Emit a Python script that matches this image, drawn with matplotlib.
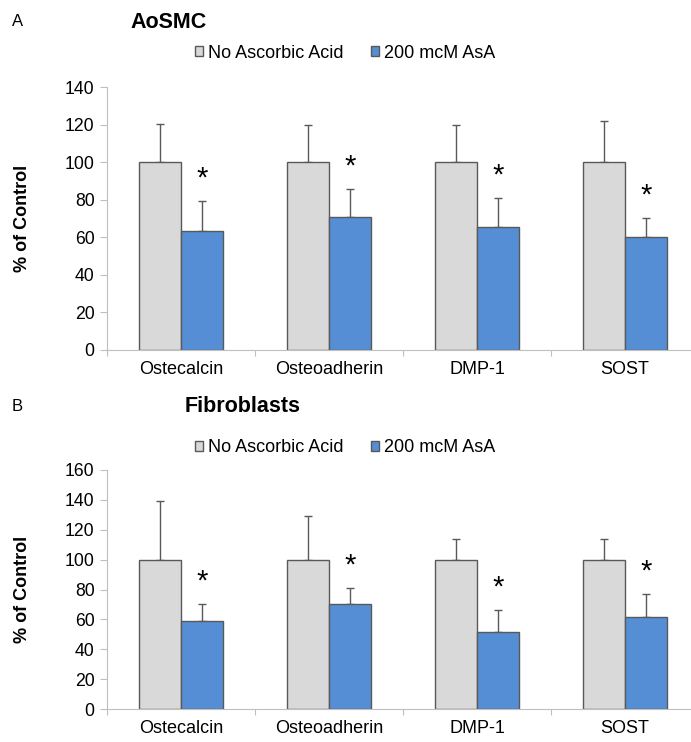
import matplotlib.pyplot as plt
import numpy as np

plt.rcParams['font.family'] = ['Liberation Sans', 'DejaVu Sans']

genes = ['Ostecalcin', 'Osteoadherin', 'DMP-1', 'SOST']
series = ['No Ascorbic Acid', '200 mcM AsA']

# panel A: AoSMC
aosmc_ctrl = [100, 100, 100, 100]
aosmc_ctrl_err = [20.2, 19.7, 19.7, 21.8]
aosmc_asa = [63.5, 70.6, 65.6, 60.3]
aosmc_asa_err = [15.8, 15.0, 15.1, 9.9]

# panel B: Fibroblasts
fib_ctrl = [100, 100, 100, 100]
fib_ctrl_err = [39.4, 29.4, 13.8, 13.8]
fib_asa = [59.1, 70.5, 51.3, 61.4]
fib_asa_err = [11.2, 10.5, 15.2, 15.6]

GRAY = '#d9d9d9'
BLUE = '#558ed5'
EDGE = '#595959'
AXC = '#bfbfbf'
FS = 13

fig = plt.figure(figsize=(6.91, 7.42), dpi=100)


def draw_panel(ax, ctrl, ctrl_err, asa, asa_err, ymax, ystep, star_off):
    x = np.arange(len(genes))
    w = 0.285
    ax.bar(x - w / 2, ctrl, w, color=GRAY, edgecolor=EDGE, linewidth=1,
           label=series[0], zorder=2)
    ax.bar(x + w / 2, asa, w, color=BLUE, edgecolor=EDGE, linewidth=1,
           label=series[1], zorder=2)
    ax.errorbar(x - w / 2, ctrl, yerr=[np.zeros(4), ctrl_err], fmt='none',
                ecolor=EDGE, elinewidth=1, capsize=3, capthick=1, zorder=1)
    ax.errorbar(x + w / 2, asa, yerr=[np.zeros(4), asa_err], fmt='none',
                ecolor=EDGE, elinewidth=1, capsize=3, capthick=1, zorder=1)
    for i in range(len(genes)):
        ax.text(x[i] + w / 2, asa[i] + asa_err[i] + star_off, '*',
                ha='center', va='center', fontsize=21)

    ax.set_xlim(-0.5, len(genes) - 0.5)
    ax.set_ylim(0, ymax)
    ax.set_yticks(np.arange(0, ymax + 1, ystep))
    ax.set_xticks(np.arange(-0.5, len(genes)), [''] * (len(genes) + 1))
    ax.set_xticks(x, genes, minor=True)
    ax.tick_params(axis='x', which='major', length=4, color=AXC, direction='out')
    ax.tick_params(axis='x', which='minor', length=0, labelsize=FS, pad=8)
    ax.tick_params(axis='y', length=5, color=AXC, labelsize=FS - 0.3, pad=4)
    for s in ['top', 'right']:
        ax.spines[s].set_visible(False)
    for s in ['left', 'bottom']:
        ax.spines[s].set_color(AXC)
    ax.set_ylabel('% of Control', fontsize=FS, fontweight='bold', labelpad=24)


axA = fig.add_axes([107 / 691, 1 - 350 / 742, 592 / 691, 263 / 742])
draw_panel(axA, aosmc_ctrl, aosmc_ctrl_err, aosmc_asa, aosmc_asa_err, 140, 20, 12)
axB = fig.add_axes([107 / 691, 1 - 709 / 742, 592 / 691, 239 / 742])
draw_panel(axB, fib_ctrl, fib_ctrl_err, fib_asa, fib_asa_err, 160, 20, 15)

for ax, ly in [(axA, 53), (axB, 448)]:
    ax.legend(loc='center', bbox_to_anchor=(345 / 691, 1 - ly / 742),
              bbox_transform=fig.transFigure, ncol=2, frameon=False,
              fontsize=FS, handlelength=0.45, handleheight=0.45,
              handletextpad=0.3, columnspacing=1.5)

fig.text(12 / 691, 1 - 22 / 742, 'A', fontsize=12, va='center')
fig.text(130 / 691, 1 - 22 / 742, 'AoSMC', fontsize=15.5, fontweight='bold', va='center')
fig.text(12 / 691, 1 - 407 / 742, 'B', fontsize=12, va='center')
fig.text(185 / 691, 1 - 407 / 742, 'Fibroblasts', fontsize=15.5, fontweight='bold', va='center')

fig.savefig('out.png', dpi=100)
